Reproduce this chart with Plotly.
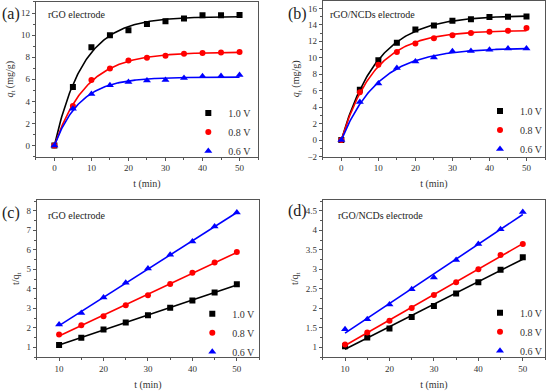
import numpy as np
import plotly.graph_objects as go

# ---------------- data ----------------
t_kin = [0, 5, 10, 15, 20, 25, 30, 35, 40, 45, 50]
t_lin = [10, 15, 20, 25, 30, 35, 40, 45, 50]
voltages = ["1.0 V", "0.8 V", "0.6 V"]

# (a) rGO electrode, q_t (mg/g)
a_10 = [0, 5.29, 8.90, 9.99, 10.43, 11.00, 11.26, 11.50, 11.79, 11.79, 11.82]
a_08 = [0, 3.58, 5.94, 6.98, 7.71, 7.95, 8.13, 8.31, 8.37, 8.42, 8.48]
a_06 = [0, 3.34, 4.67, 5.47, 5.76, 5.88, 5.94, 6.12, 6.27, 6.30, 6.38]

# (b) rGO/NCDs electrode, q_t (mg/g)
b_10 = [0, 6.13, 9.71, 11.82, 13.45, 13.93, 14.49, 14.69, 14.97, 15.00, 15.02]
b_08 = [0, 5.81, 9.15, 10.71, 11.74, 12.38, 12.74, 13.01, 13.17, 13.29, 13.61]
b_06 = [0, 4.62, 6.89, 8.76, 9.55, 10.03, 10.79, 10.83, 10.99, 11.14, 11.14]

# (c) rGO electrode, t/q_t
c_10 = [1.12, 1.49, 1.91, 2.27, 2.64, 3.03, 3.40, 3.81, 4.23]
c_08 = [1.66, 2.13, 2.59, 3.16, 3.67, 4.25, 4.82, 5.35, 5.89]
c_06 = [2.17, 2.76, 3.55, 4.31, 5.04, 5.75, 6.43, 7.19, 7.92]

# (d) rGO/NCDs electrode, t/q_t
d_10 = [1.03, 1.25, 1.48, 1.78, 2.06, 2.38, 2.67, 2.99, 3.31]
d_08 = [1.07, 1.38, 1.68, 2.01, 2.34, 2.67, 3.00, 3.37, 3.65]
d_06 = [1.46, 1.72, 2.10, 2.49, 2.79, 3.24, 3.65, 4.03, 4.47]

# ---------------- styles ----------------
colors = ["#000000", "#ff0000", "#0000ff"]
symbols = ["square", "circle", "triangle-up"]
msizes = [6, 6, 7]
SERIF = "Liberation Serif, Times New Roman, serif"
W, H = 548, 391


def px_x(p):
    return p / W


def px_y(p):
    return 1 - p / H


def fit_first_order(t, q):
    t = np.asarray(t, float)
    q = np.asarray(q, float)
    best = None
    for k in np.linspace(0.01, 1.0, 3000):
        f = 1 - np.exp(-k * t)
        qe = (q * f).sum() / (f * f).sum()
        err = ((q - qe * f) ** 2).sum()
        if best is None or err < best[0]:
            best = (err, k, qe)
    return best[1], best[2]


fig = go.Figure()

panels = [
    ("x", "y", "legend", "kin", [a_10, a_08, a_06]),
    ("x2", "y2", "legend2", "kin", [b_10, b_08, b_06]),
    ("x3", "y3", "legend3", "lin", [c_10, c_08, c_06]),
    ("x4", "y4", "legend4", "lin", [d_10, d_08, d_06]),
]

for xa, ya, lg, kind, series in panels:
    for i, vals in enumerate(series):
        if kind == "kin":
            tx = t_kin
            k, qe = fit_first_order(t_kin, vals)
            tt = np.linspace(0, 50, 201)
            yy = qe * (1 - np.exp(-k * tt))
        else:
            tx = t_lin
            s, b0 = np.polyfit(t_lin, vals, 1)
            tt = np.array([10.0, 50.0])
            yy = s * tt + b0
        fig.add_trace(go.Scatter(
            x=tt, y=yy, mode="lines", line=dict(color=colors[i], width=1.6),
            xaxis=xa, yaxis=ya, showlegend=False, hoverinfo="skip"))
        fig.add_trace(go.Scatter(
            x=tx, y=vals, mode="markers", name=voltages[i],
            marker=dict(color=colors[i], symbol=symbols[i], size=msizes[i]),
            xaxis=xa, yaxis=ya, legend=lg))

# panel geometry in pixels: (left, right, top, bottom)
geo = {
    "1": (36, 259, 1, 158),
    "2": (324, 547, 0, 158),
    "3": (37, 260, 202, 362),
    "4": (324, 547, 202, 362),
}
xranges = {"1": [-5, 55], "2": [-5, 55], "3": [5, 55], "4": [5, 55]}
yranges = {"1": [-1, 13], "2": [-2, 16.9], "3": [0.48, 8.56], "4": [0.74, 4.78]}
ydt = {"1": (2, 1), "2": (2, 1), "3": (1, 0.5), "4": (0.5, 0.25)}
ytitles = {"1": "<i>q</i><sub>t</sub> (mg/g)", "2": "<i>q</i><sub>t</sub> (mg/g)",
           "3": "t/q<sub>t</sub>", "4": "t/q<sub>t</sub>"}

axcommon = dict(showline=True, mirror=True, linecolor="#555555", linewidth=1,
                ticks="outside", ticklen=3, tickcolor="#555555",
                showgrid=False, zeroline=False,
                tickfont=dict(family=SERIF, size=9, color="#333333"))

layout = {}
for key, (l, r, t, b) in geo.items():
    sx = "xaxis" if key == "1" else "xaxis" + key
    sy = "yaxis" if key == "1" else "yaxis" + key
    anchor_x = "y" if key == "1" else "y" + key
    anchor_y = "x" if key == "1" else "x" + key
    layout[sx] = dict(domain=[px_x(l), px_x(r)], range=xranges[key], anchor=anchor_x,
                      dtick=10, tick0=0,
                      minor=dict(dtick=5, tick0=0, ticks="outside", ticklen=2,
                                 tickcolor="#555555"),
                      title=dict(text="t (min)", standoff=7,
                                 font=dict(family=SERIF, size=10, color="#333333")),
                      **axcommon)
    d1, d2 = ydt[key]
    layout[sy] = dict(domain=[px_y(b), px_y(t)], range=yranges[key], anchor=anchor_y,
                      dtick=d1, tick0=0,
                      minor=dict(dtick=d2, tick0=0, ticks="outside", ticklen=2,
                                 tickcolor="#555555"),
                      title=dict(text=ytitles[key], standoff=5,
                                 font=dict(family=SERIF, size=10, color="#333333")),
                      **axcommon)

fig.update_layout(**layout)

# legends
leg_pos = {"legend": (189, 99), "legend2": (482, 97),
           "legend3": (193, 303), "legend4": (482, 302)}
for name, (lx, ly) in leg_pos.items():
    fig.update_layout({name: dict(x=px_x(lx), y=px_y(ly), xanchor="left", yanchor="top",
                                  bgcolor="rgba(0,0,0,0)", borderwidth=0,
                                  itemwidth=30, tracegroupgap=0,
                                  font=dict(family=SERIF, size=10, color="#333333"))})

annotations = []
labels = [("(a)", 0, 13), ("(b)", 287, 13), ("(c)", 0, 215), ("(d)", 287, 213)]
for txt, x, y in labels:
    annotations.append(dict(text=txt, x=px_x(x), y=px_y(y), xref="paper", yref="paper",
                            xanchor="left", yanchor="middle", showarrow=False,
                            font=dict(family=SERIF, size=16, color="#222222")))
names = [("rGO electrode", 46, 14), ("rGO/NCDs electrode", 329, 14),
         ("rGO electrode", 46, 218), ("rGO/NCDs electrode", 337, 218)]
for txt, x, y in names:
    annotations.append(dict(text=txt, x=px_x(x), y=px_y(y), xref="paper", yref="paper",
                            xanchor="left", yanchor="middle", showarrow=False,
                            font=dict(family=SERIF, size=10, color="#222222")))

fig.update_layout(width=W, height=H, margin=dict(l=0, r=0, t=0, b=0),
                  paper_bgcolor="white", plot_bgcolor="white",
                  annotations=annotations)

fig.write_html("out.html", config={"displayModeBar": False},
               post_script="document.body.style.margin='0';")
